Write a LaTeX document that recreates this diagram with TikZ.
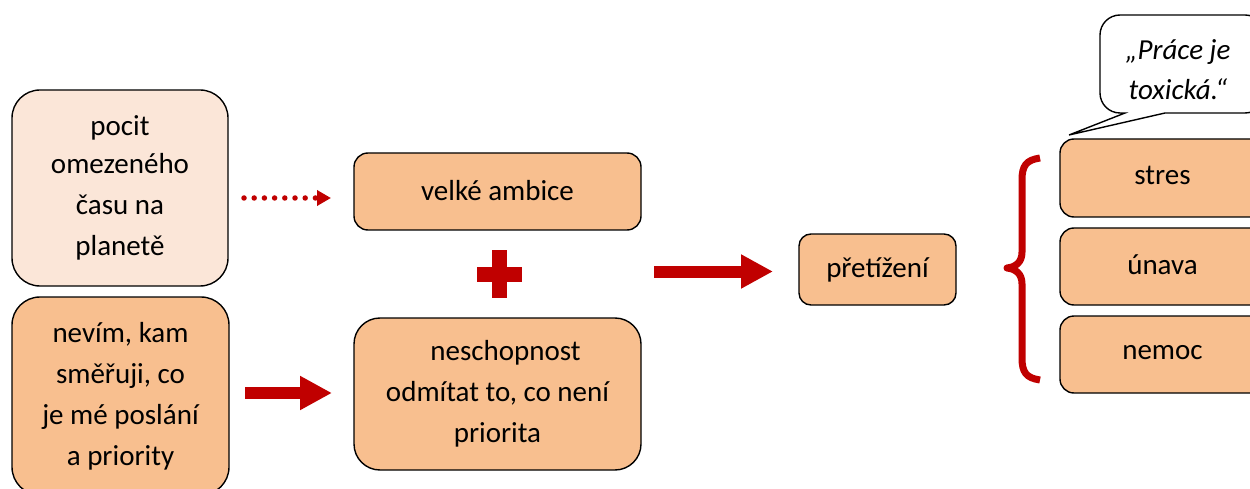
\documentclass[tikz,border=0pt]{standalone}
\usepackage{fontspec}
\setmainfont{Carlito}
\usetikzlibrary{arrows.meta}
\definecolor{peach}{HTML}{F8BF8F}
\definecolor{paleLight}{HTML}{FBE6D8}
\definecolor{darkred}{HTML}{C00000}
\begin{document}
\begin{tikzpicture}[x=1pt,y=-1pt,
  every node/.style={font=\fontsize{29}{41}\selectfont},
  box/.style={draw=black,line width=1.4pt,fill=peach,rectangle,inner sep=0pt,align=center},
  bigarrow/.style={draw=darkred,line width=12pt,-{Triangle[length=32pt,width=32pt]}},
  dotarrow/.style={draw=darkred,line width=5.5pt,line cap=round,dash pattern=on 0pt off 10.2pt,
    -{Triangle[length=14pt,width=15pt]}}]
\useasboundingbox (0,0) rectangle (1250,489);
\clip (0,0) rectangle (1250,489);

% left column: causes
\node[box,fill=paleLight,minimum width=216pt,minimum height=196pt,rounded corners=28pt]
  (pocit) at (120,188) {\raisebox{-3pt}{pocit}\\omezeného\\času na\\planetě};
\node[box,minimum width=217pt,minimum height=198pt,rounded corners=28pt]
  (nevim) at (120.5,396) {nevím, kam\\směřuji, co\\je mé poslání\\a priority};

% middle column
\node[box,minimum width=287pt,minimum height=77pt,rounded corners=14pt]
  (ambice) at (497.5,191.5) {\raisebox{2pt}{velké ambice}};
\node[box,minimum width=287pt,minimum height=152pt,rounded corners=26pt]
  (neschop) at (497.5,394) {\hspace*{16pt}neschopnost\\odmítat to, co není\\priorita};

% plus sign between the two middle boxes
\fill[darkred] (477,267) rectangle (522,282);
\fill[darkred] (492,250) rectangle (507,298);

% result
\node[box,minimum width=157pt,minimum height=71pt,rounded corners=12pt]
  (pretizeni) at (877.5,269.5) {přetížení};

% consequences
\node[box,minimum width=205pt,minimum height=78pt,rounded corners=14pt]
  (stres) at (1162.5,178) {\raisebox{6pt}{stres}};
\node[box,minimum width=205pt,minimum height=77pt,rounded corners=14pt]
  (unava) at (1162.5,266.5) {\raisebox{4pt}{únava}};
\node[box,minimum width=205pt,minimum height=77pt,rounded corners=14pt]
  (nemoc) at (1162.5,354.5) {\raisebox{5pt}{nemoc}};

% connectors
\coordinate (dotA) at (244,198);
\coordinate (dotB) at (331,198);
\draw[dotarrow] (dotA) -- (dotB);
\coordinate (midA) at (654,271.5);
\coordinate (midB) at (773,271.5);
\draw[bigarrow] (midA) -- (midB);
\coordinate (lowA) at (245,393);
\coordinate (lowB) at (332,393);
\draw[bigarrow] (lowA) -- (lowB);

% curly brace grouping the consequences
\draw[darkred,line width=7pt,line join=round]
  (1040,158) .. controls (1026,160) and (1022,166) .. (1022,180)
  -- (1022,252) .. controls (1022,262) and (1016,267) .. (1007,268)
  .. controls (1016,269) and (1022,274) .. (1022,284)
  -- (1022,358) .. controls (1022,372) and (1026,378) .. (1040,380);

% speech bubble
\draw[line width=1.4pt,fill=white] (1069,135) -- (1125,113)
  [rounded corners=20pt] -- (1100,113) -- (1100,15) -- (1265,15) -- (1265,113)
  [sharp corners] -- (1165,113) -- cycle;
\node[align=center,font=\fontsize{29}{40}\selectfont\itshape] (quote) at (1178,70)
  {„Práce je\\toxická.“};
\end{tikzpicture}
\end{document}
